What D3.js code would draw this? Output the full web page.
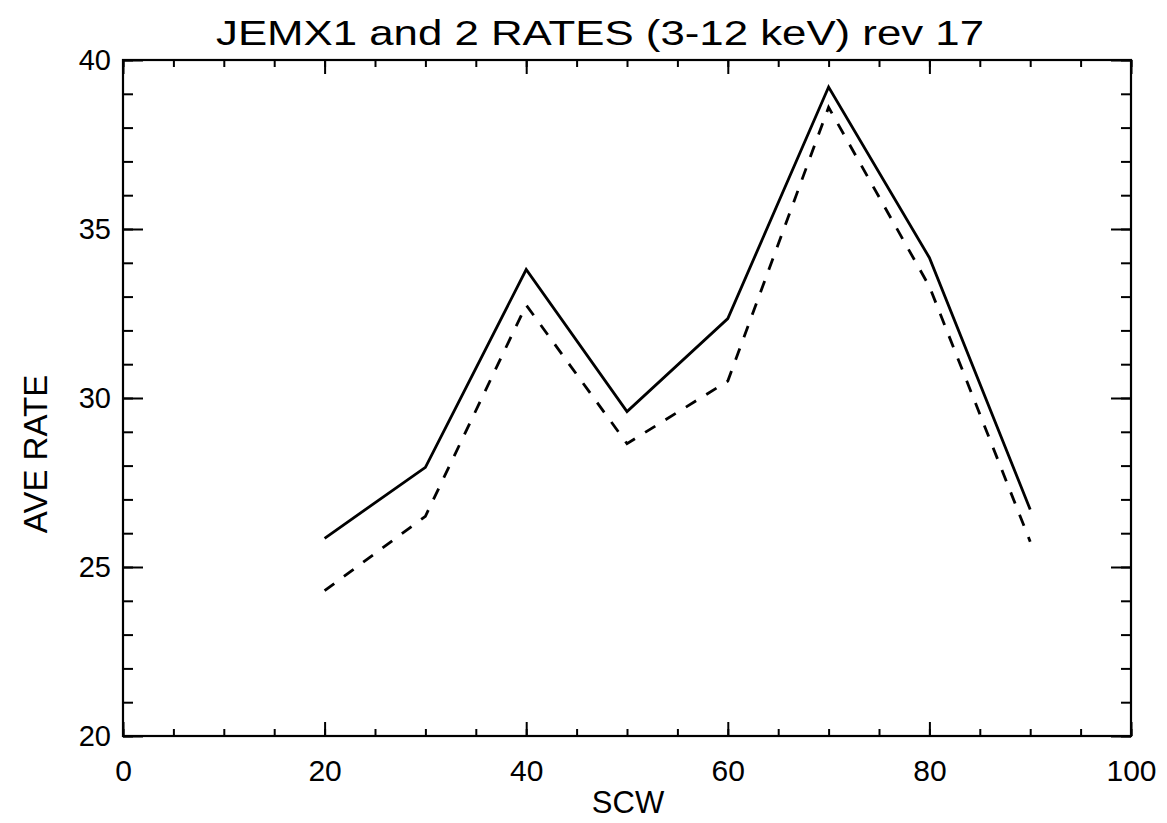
<!DOCTYPE html>
<html>
<head>
<meta charset="utf-8">
<script src="https://cdn.jsdelivr.net/npm/d3@7"></script>
<style>
  html, body { margin: 0; padding: 0; background: #fff; }
  svg { display: block; }
  text { font-family: "Liberation Sans", Arial, Helvetica, sans-serif; fill: #000; }
</style>
</head>
<body>
<svg id="chart" width="1167" height="823"></svg>
<script>
// Science window numbers and averaged count rates for each JEM-X unit
const scw = [20, 30, 40, 50, 60, 70, 80, 90];
const jemx1Rate = [25.85, 27.95, 33.8, 29.6, 32.35, 39.2, 34.15, 26.7];
const jemx2Rate = [24.3, 26.5, 32.75, 28.65, 30.5, 38.6, 33.3, 25.75];

const xTickValues = [0, 20, 40, 60, 80, 100];
const yTickValues = [20, 25, 30, 35, 40];
const xMinorTicks = d3.range(0, 101, 5);
const yMinorTicks = d3.range(20, 41, 1);

const titleText = "JEMX1 and 2 RATES (3-12 keV) rev 17";
const xLabel = "SCW";
const yLabel = "AVE RATE";

const svg = d3.select("#chart");
const plotLeft = 123, plotRight = 1131, plotTop = 60, plotBottom = 736;

const x = d3.scaleLinear().domain([0, 100]).range([plotLeft, plotRight]);
const y = d3.scaleLinear().domain([20, 40]).range([plotBottom, plotTop]);

const xMajorLen = 14, xMinorLen = 7;
const yMajorLen = 20, yMinorLen = 10;

// Inward ticks on all four sides
function addAxis(axis, transform) {
  const g = svg.append("g").attr("transform", transform).call(axis);
  g.select(".domain").remove();
  g.selectAll("line").attr("stroke", "#000").attr("stroke-width", 2);
  return g;
}

// bottom
addAxis(d3.axisBottom(x).tickValues(xMinorTicks).tickSize(-xMinorLen).tickFormat(""), `translate(0,${plotBottom})`);
const xb = addAxis(d3.axisBottom(x).tickValues(xTickValues).tickSize(-xMajorLen).tickPadding(24).tickFormat(d3.format("d")), `translate(0,${plotBottom})`);
xb.selectAll("text").attr("font-size", 30).attr("dy", "0.71em").attr("fill", "#000").attr("font-family", null);
// top
addAxis(d3.axisTop(x).tickValues(xMinorTicks).tickSize(-xMinorLen).tickFormat(""), `translate(0,${plotTop})`);
addAxis(d3.axisTop(x).tickValues(xTickValues).tickSize(-xMajorLen).tickFormat(""), `translate(0,${plotTop})`);
// left
addAxis(d3.axisLeft(y).tickValues(yMinorTicks).tickSize(-yMinorLen).tickFormat(""), `translate(${plotLeft},0)`);
const yl = addAxis(d3.axisLeft(y).tickValues(yTickValues).tickSize(-yMajorLen).tickPadding(12).tickFormat(d3.format("d")), `translate(${plotLeft},0)`);
yl.selectAll("text").attr("font-size", 29).attr("fill", "#000").attr("font-family", null);
// right
addAxis(d3.axisRight(y).tickValues(yMinorTicks).tickSize(-yMinorLen).tickFormat(""), `translate(${plotRight},0)`);
addAxis(d3.axisRight(y).tickValues(yTickValues).tickSize(-yMajorLen).tickFormat(""), `translate(${plotRight},0)`);

// plot frame
svg.append("rect")
  .attr("x", plotLeft).attr("y", plotTop)
  .attr("width", plotRight - plotLeft).attr("height", plotBottom - plotTop)
  .attr("fill", "none").attr("stroke", "#000").attr("stroke-width", 2.2);

// data lines
const line = d3.line().x((d, i) => x(scw[i])).y(d => y(d));

svg.append("path")
  .datum(jemx1Rate)
  .attr("d", line)
  .attr("fill", "none").attr("stroke", "#000").attr("stroke-width", 2.8)
  .attr("stroke-linejoin", "miter");

svg.append("path")
  .datum(jemx2Rate)
  .attr("d", line)
  .attr("fill", "none").attr("stroke", "#000").attr("stroke-width", 2.8)
  .attr("stroke-dasharray", "12,12");

// title and axis labels
svg.append("text")
  .attr("x", 600).attr("y", 45)
  .attr("text-anchor", "middle")
  .attr("font-size", 35)
  .attr("textLength", 768).attr("lengthAdjust", "spacingAndGlyphs")
  .text(titleText);

svg.append("text")
  .attr("x", 628).attr("y", 813)
  .attr("text-anchor", "middle")
  .attr("font-size", 31)
  .text(xLabel);

svg.append("text")
  .attr("transform", "translate(47,454) rotate(-90)")
  .attr("text-anchor", "middle")
  .attr("font-size", 33)
  .text(yLabel);
</script>
</body>
</html>
